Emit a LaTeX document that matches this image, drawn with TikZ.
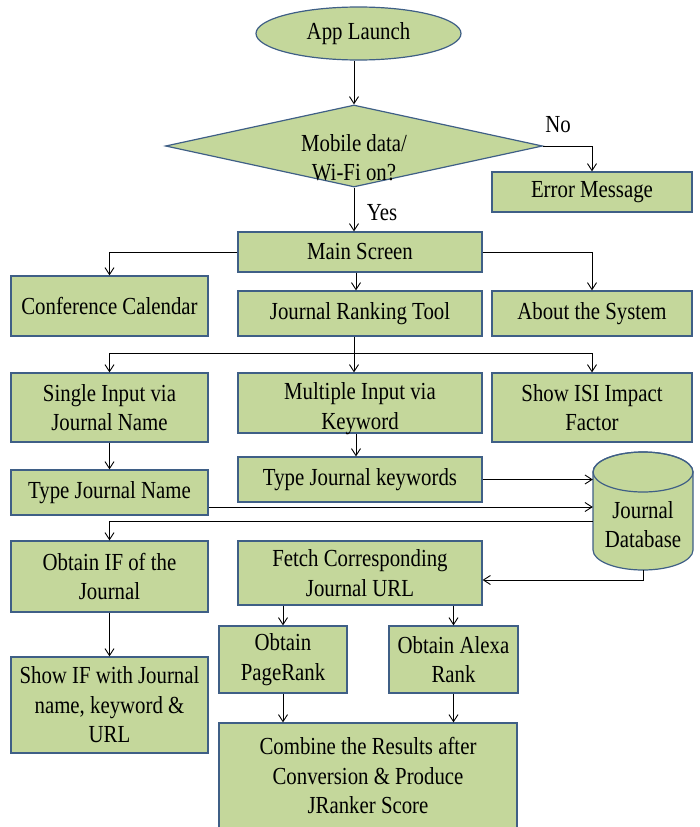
\documentclass[tikz,border=0pt]{standalone}
\usepackage{fontspec}
\setmainfont{Liberation Serif}[FakeStretch=0.85]
\usetikzlibrary{arrows.meta,shapes.geometric}
\definecolor{boxfill}{HTML}{C4D79B}
\definecolor{boxline}{HTML}{3F5F86}
\begin{document}
\begin{tikzpicture}[x=1pt,y=-1pt,
  lbl/.style={font=\fontsize{24.5}{29.5}\selectfont, align=center, inner sep=0pt},
  stepbox/.style={lbl, draw=boxline, fill=boxfill, line width=1.2pt, rectangle},
  arr/.style={line width=0.9pt, -{Straight Barb[length=7pt,width=9pt]}},
  wire/.style={line width=0.9pt}]
\useasboundingbox (0,0) rectangle (700,827);

% start and decision
\node[lbl, ellipse, draw=boxline, fill=boxfill, line width=1.2pt,
      minimum width=205, minimum height=53] (app) at (358.5,33.5) {App Launch};
\node[diamond, draw=boxline, fill=boxfill, line width=1.2pt, inner sep=0pt,
      minimum width=377, minimum height=82] (dia) at (354,146) {};
\node[lbl] (diatext) at (354,157.5) {Mobile data/\\Wi-Fi on?};
\node[stepbox, minimum width=200, minimum height=40] (err) at (592,192) {Error Message};

% main menu
\node[stepbox, minimum width=244, minimum height=40] (main) at (360,252) {Main Screen};
\node[stepbox, minimum width=197, minimum height=60] (conf) at (109.5,306) {Conference Calendar};
\node[stepbox, minimum width=244, minimum height=45] (jrt) at (360,313.5) {Journal Ranking Tool};
\node[stepbox, minimum width=200, minimum height=45] (about) at (592,313.5) {About the System};

% input modes
\node[stepbox, minimum width=197, minimum height=69] (single) at (109.5,407.5) {Single Input via\\Journal Name};
\node[stepbox, minimum width=244, minimum height=60] (multi) at (360,403) {};
\node[lbl] (multitext) at (360,408.5) {Multiple Input via\\Keyword};
\node[stepbox, minimum width=200, minimum height=69] (isi) at (592,407.5) {Show ISI Impact\\Factor};

\node[stepbox, minimum width=244, minimum height=45] (keywords) at (360,479.5) {Type Journal keywords};
\node[stepbox, minimum width=197, minimum height=45] (tjname) at (109.5,492.5) {Type Journal Name};

% journal database cylinder
\node[inner sep=0pt, minimum width=100, minimum height=118] (db) at (643,511) {};
\filldraw[draw=boxline, fill=boxfill, line width=1.2pt]
  (593,472) -- (593,550) arc[start angle=180, end angle=360, x radius=50, y radius=-20]
  -- (693,472) arc[start angle=0, end angle=180, x radius=50, y radius=-20] -- cycle;
\draw[boxline, line width=1.2pt] (643,472) ellipse[x radius=50, y radius=20];
\node[lbl] (dbtext) at (643,524.5) {Journal\\Database};

% results
\node[stepbox, minimum width=197, minimum height=71] (oif) at (109.5,576.5) {Obtain IF of the\\Journal};
\node[stepbox, minimum width=244, minimum height=64] (fetch) at (360,573) {Fetch Corresponding\\Journal URL};
\node[stepbox, minimum width=128, minimum height=67] (pagerank) at (283,659.5) {Obtain\\PageRank};
\node[stepbox, minimum width=129, minimum height=67] (alexa) at (453.5,659.5) {Obtain Alexa\\Rank};
\node[stepbox, minimum width=197, minimum height=96] (showif) at (109.5,705) {Show IF with Journal\\name, keyword \&\\URL};
\node[stepbox, minimum width=298, minimum height=105] (combine) at (368,775.5) {Combine the Results after\\Conversion \& Produce\\JRanker Score};

% connectors
\draw[arr] (dia.north |- app.south) -- (dia.north);
\draw[arr] (dia.east) -| (err.north);
\node[lbl] (nolbl) at (558,125) {No};
\draw[arr] (dia.south) -- (dia.south |- main.north);
\node[lbl] (yeslbl) at (382,213) {Yes};

\draw[arr] (main.west) -| (conf.north);
\draw[arr] ([xshift=-4pt]main.south) -- ([xshift=-4pt]main.south |- jrt.north);
\draw[arr] (main.east) -| (about.north);

\coordinate (split) at (354,353);
\draw[wire] (jrt.south -| split) -- (split);
\draw[arr] (split) -| (single.north);
\draw[arr] (split) -- (split |- multi.north);
\draw[arr] (split) -| (isi.north);

\draw[arr] (single.south) -- (tjname.north);
\draw[arr] ([xshift=-4pt]multi.south) -- ([xshift=-4pt]multi.south |- keywords.north);
\draw[arr] (keywords.east) -- (keywords.east -| db.west);
\draw[arr] ([yshift=-14.5pt]tjname.east) -- ([yshift=-14.5pt]tjname.east -| db.west);
\draw[arr] ([yshift=-10pt]db.west) -| (oif.north);
\draw[arr] (db.south) |- ([yshift=-7pt]fetch.east);

\draw[arr] (pagerank.north |- fetch.south) -- (pagerank.north);
\draw[arr] (alexa.north |- fetch.south) -- (alexa.north);
\draw[arr] (oif.south) -- (showif.north);
\draw[arr] (pagerank.south) -- (pagerank.south |- combine.north);
\draw[arr] (alexa.south) -- (alexa.south |- combine.north);
\end{tikzpicture}
\end{document}
